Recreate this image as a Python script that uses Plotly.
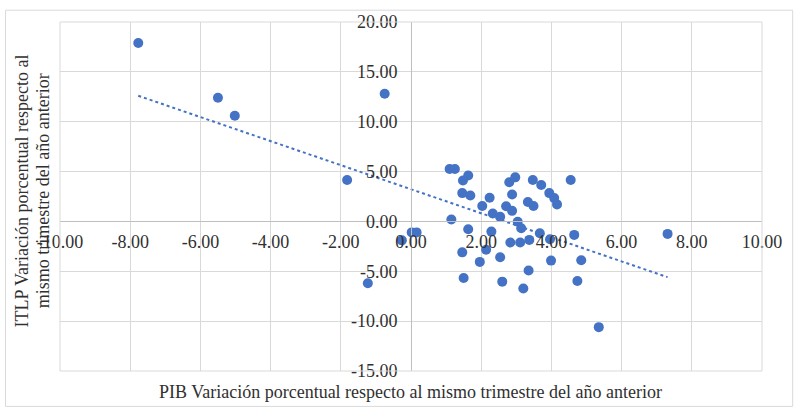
import numpy as np
import plotly.graph_objects as go

# GDP year-on-year change (x) vs. ITLP year-on-year change (y), per quarter
pib = [-7.77, -5.50, -5.02, -1.82, -0.75, -1.23, -0.26, 0.02, 0.16,
       1.10, 1.25, 1.63, 1.48, 1.46, 1.69, 2.24, 2.03, 2.33, 2.54, 1.15,
       1.63, 2.29, 1.46, 2.14, 1.96, 2.54, 1.50, 2.60, 3.20, 3.35,
       2.83, 3.11, 3.37, 3.67, 3.96, 3.99, 4.65, 4.85, 4.74, 7.31,
       3.04, 3.14, 2.71, 2.88, 2.88, 2.80, 2.97, 3.47, 3.71, 3.33,
       3.49, 3.94, 4.08, 4.16, 4.55, 5.35]
itlp = [17.9, 12.4, 10.6, 4.16, 12.8, -6.2, -1.9, -1.1, -1.1,
        5.25, 5.25, 4.6, 4.1, 2.84, 2.6, 2.38, 1.55, 0.79, 0.46, 0.2,
        -0.79, -1.02, -3.1, -2.84, -4.06, -3.6, -5.68, -6.04, -6.73, -4.92,
        -2.11, -2.11, -1.85, -1.19, -1.78, -3.93, -1.35, -3.9, -5.97, -1.25,
        -0.03, -0.69, 1.52, 1.06, 2.7, 3.93, 4.42, 4.16, 3.66, 1.95,
        1.55, 2.84, 2.34, 1.71, 4.16, -10.6]

x_ticks = [-10, -8, -6, -4, -2, 0, 2, 4, 6, 8, 10]
x_labels = ["-10.00", "-8.00", "-6.00", "-4.00", "-2.00", "0.00",
            "2.00", "4.00", "6.00", "8.00", "10.00"]
y_ticks = [-15, -10, -5, 0, 5, 10, 15, 20]
y_labels = ["-15.00", "-10.00", "-5.00", "0.00", "5.00", "10.00", "15.00", "20.00"]

x_title = "PIB Variación porcentual respecto al mismo trimestre del año anterior"
y_title_lines = ["ITLP Variación porcentual respecto al",
                 "mismo trimestre del año anterior"]

BLUE = "#4472C4"
GRID = "#D9D9D9"
FONT = "Liberation Serif"
TXT = "#303030"
FS = 18

# Linear trend (least squares) over the observed x range
slope, intercept = np.polyfit(pib, itlp, 1)
tx = np.array([min(pib), max(pib)])
ty = slope * tx + intercept

fig = go.Figure()
fig.add_trace(go.Scatter(x=tx, y=ty, mode="lines",
                         line=dict(color=BLUE, width=2, dash="dot"),
                         hoverinfo="skip", showlegend=False))
fig.add_trace(go.Scatter(x=pib, y=itlp, mode="markers",
                         marker=dict(color=BLUE, size=10),
                         showlegend=False))

W, H = 794, 409
ml, mr, mt, mb = 60, 25, 16, 38
pw, ph = W - ml - mr, H - mt - mb


def px_x(p):
    return (p - ml) / pw


def px_y(p):
    return (H - mb - p) / ph


annotations = [
    dict(text=x_title, xref="paper", yref="paper",
         x=px_x(414), y=px_y(392),
         xanchor="center", yanchor="middle", showarrow=False,
         font=dict(family=FONT, size=FS, color=TXT)),
]
for i, (line, cx) in enumerate(zip(y_title_lines, [22, 43])):
    annotations.append(
        dict(text=line, xref="paper", yref="paper",
             x=px_x(cx), y=px_y(188), textangle=-90,
             xanchor="center", yanchor="middle", showarrow=False,
             font=dict(family=FONT, size=FS, color=TXT)))

fig.update_layout(
    width=W, height=H,
    margin=dict(l=ml, r=mr, t=mt, b=mb, pad=0),
    paper_bgcolor="white", plot_bgcolor="white",
    font=dict(family=FONT, size=FS, color=TXT),
    xaxis=dict(range=[-10, 10], tickvals=x_ticks, ticktext=x_labels,
               showgrid=True, gridcolor=GRID, gridwidth=1,
               zeroline=False, showline=True, linecolor="#BFBFBF",
               anchor="free", position=15 / 35, ticks="",
               ticklabelstandoff=4, fixedrange=True),
    yaxis=dict(range=[-15, 20], tickvals=y_ticks, ticktext=y_labels,
               showgrid=True, gridcolor=GRID, gridwidth=1,
               zeroline=False, showline=True, linecolor="#BFBFBF",
               anchor="free", position=0.5, ticks="",
               ticklabelstandoff=10, fixedrange=True),
    shapes=[
        # plot area frame
        dict(type="rect", xref="paper", yref="paper", x0=0, y0=0, x1=1, y1=1,
             line=dict(color=GRID, width=1)),
        # chart area border
        dict(type="rect", xref="paper", yref="paper",
             x0=px_x(5), x1=px_x(800), y0=px_y(407), y1=px_y(4),
             line=dict(color=GRID, width=1)),
    ],
    annotations=annotations,
)

fig.write_html("out.html")
